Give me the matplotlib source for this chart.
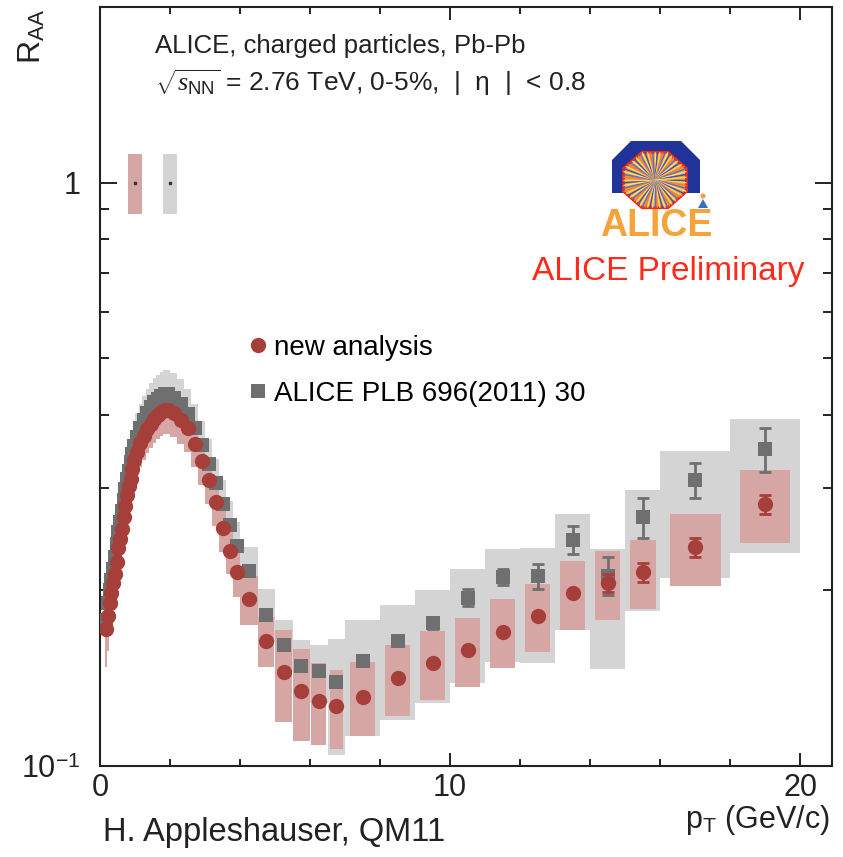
import numpy as np
import matplotlib
matplotlib.use("Agg")
import matplotlib.pyplot as plt
from matplotlib.patches import Polygon, Circle
from matplotlib.lines import Line2D
from matplotlib.ticker import LogLocator, NullFormatter, FixedLocator

plt.rcParams['font.family'] = ['Liberation Sans', 'DejaVu Sans']
plt.rcParams['mathtext.fontset'] = 'custom'
plt.rcParams['mathtext.rm'] = 'Liberation Sans'
plt.rcParams['mathtext.it'] = 'Liberation Serif:italic'
plt.rcParams['mathtext.sf'] = 'Liberation Sans'

# pT bin centres and full bin widths (GeV/c)
pt = [0.175, 0.225, 0.275, 0.325, 0.375, 0.425, 0.475, 0.525, 0.575, 0.625,
      0.675, 0.725, 0.775, 0.825, 0.875, 0.925, 0.975,
      1.05, 1.15, 1.25, 1.35, 1.45, 1.55, 1.65, 1.75, 1.85, 1.95,
      2.1, 2.3, 2.5, 2.7, 2.9, 3.1, 3.3, 3.5, 3.7, 3.9,
      4.25, 4.75, 5.25, 5.75, 6.25, 6.75,
      7.5, 8.5, 9.5, 10.5, 11.5, 12.5, 13.5, 14.5, 15.5, 17.0, 19.0]
bin_w = [0.05, 0.05, 0.05, 0.05, 0.05, 0.05, 0.05, 0.05, 0.05, 0.05,
         0.05, 0.05, 0.05, 0.05, 0.05, 0.05, 0.05,
         0.1, 0.1, 0.1, 0.1, 0.1, 0.1, 0.1, 0.1, 0.1, 0.1,
         0.2, 0.2, 0.2, 0.2, 0.2, 0.2, 0.2, 0.2, 0.2, 0.2,
         0.5, 0.5, 0.5, 0.5, 0.5, 0.5,
         1.0, 1.0, 1.0, 1.0, 1.0, 1.0, 1.0, 1.0, 1.0, 2.0, 2.0]

# new analysis
raa_new = [0.172, 0.181, 0.190, 0.198, 0.206, 0.213, 0.224, 0.236, 0.245, 0.255,
           0.267, 0.279, 0.291, 0.302, 0.311, 0.323, 0.334,
           0.346, 0.358, 0.368, 0.378, 0.386, 0.393, 0.399, 0.404, 0.407, 0.407,
           0.403, 0.392, 0.379, 0.357, 0.333, 0.309, 0.283, 0.256, 0.234, 0.215,
           0.193, 0.164, 0.145, 0.1346, 0.1294, 0.1267,
           0.1315, 0.1414, 0.150, 0.158, 0.170, 0.181, 0.198, 0.206, 0.215, 0.237, 0.281]
stat_new = [0, 0, 0, 0, 0, 0, 0, 0, 0, 0, 0, 0, 0, 0, 0, 0, 0,
            0, 0, 0, 0, 0, 0, 0, 0, 0, 0,
            0, 0, 0, 0, 0, 0, 0, 0, 0, 0,
            0, 0, 0, 0, 0, 0,
            0, 0, 0, 0, 0, 0, 0, 0.007, 0.008, 0.009, 0.011]
sys_new = [0.14, 0.13, 0.12, 0.11, 0.10, 0.10, 0.10, 0.095, 0.095, 0.09,
           0.09, 0.09, 0.09, 0.09, 0.09, 0.09, 0.09,
           0.09, 0.09, 0.09, 0.09, 0.09, 0.09, 0.09, 0.09, 0.09, 0.09,
           0.09, 0.09, 0.09, 0.09, 0.09, 0.09, 0.09, 0.09, 0.09, 0.095,
           0.095, 0.10, 0.18, 0.18, 0.16, 0.155,
           0.145, 0.14, 0.135, 0.135, 0.135, 0.135, 0.135, 0.135, 0.135, 0.14, 0.143]
box_w_new = [0.05, 0.05, 0.05, 0.05, 0.05, 0.05, 0.05, 0.05, 0.05, 0.05,
             0.05, 0.05, 0.05, 0.05, 0.05, 0.05, 0.05,
             0.1, 0.1, 0.1, 0.1, 0.1, 0.1, 0.1, 0.1, 0.1, 0.1,
             0.2, 0.2, 0.2, 0.2, 0.2, 0.2, 0.2, 0.2, 0.2, 0.2,
             0.5, 0.45, 0.48, 0.5, 0.42, 0.38,
             0.7, 0.7, 0.7, 0.72, 0.7, 0.7, 0.7, 0.7, 0.75, 1.45, 1.43]

# ALICE PLB 696 (2011) 30
raa_old = [0.178, 0.190, 0.200, 0.208, 0.218, 0.228, 0.240, 0.252, 0.262, 0.274,
           0.286, 0.298, 0.310, 0.321, 0.332, 0.343, 0.353,
           0.366, 0.380, 0.392, 0.403, 0.412, 0.420, 0.426, 0.431, 0.434, 0.434,
           0.428, 0.418, 0.402, 0.380, 0.355, 0.330, 0.305, 0.281, 0.259, 0.238,
           0.2155, 0.1815, 0.1612, 0.1486, 0.1455, 0.1395,
           0.1516, 0.164, 0.176, 0.1944, 0.211, 0.2117, 0.244, 0.212, 0.2667, 0.3094, 0.3493]
stat_old = [0, 0, 0, 0, 0, 0, 0, 0, 0, 0, 0, 0, 0, 0, 0, 0, 0,
            0, 0, 0, 0, 0, 0, 0, 0, 0, 0,
            0, 0, 0, 0, 0, 0, 0, 0, 0, 0,
            0, 0, 0, 0, 0, 0,
            0, 0, 0.004, 0.0065, 0.007, 0.0103, 0.0135, 0.0158, 0.021, 0.021, 0.030]
sys_old_lo = [0.12, 0.11, 0.11, 0.10, 0.10, 0.10, 0.10, 0.10, 0.10, 0.10,
              0.10, 0.10, 0.10, 0.10, 0.10, 0.10, 0.10,
              0.10, 0.10, 0.10, 0.10, 0.10, 0.10, 0.10, 0.10, 0.10, 0.10,
              0.10, 0.10, 0.10, 0.10, 0.10, 0.10, 0.10, 0.10, 0.10, 0.10,
              0.10, 0.10, 0.10, 0.10, 0.12, 0.25,
              0.256, 0.27, 0.27, 0.285, 0.286, 0.29, 0.30, 0.307, 0.31, 0.32, 0.337]
sys_old_hi = [0.12, 0.11, 0.11, 0.10, 0.10, 0.10, 0.10, 0.10, 0.10, 0.10,
              0.10, 0.10, 0.10, 0.10, 0.10, 0.10, 0.10,
              0.10, 0.10, 0.10, 0.10, 0.10, 0.10, 0.10, 0.10, 0.10, 0.10,
              0.10, 0.10, 0.10, 0.10, 0.10, 0.10, 0.10, 0.10, 0.10, 0.10,
              0.10, 0.107, 0.104, 0.106, 0.106, 0.185,
              0.174, 0.15, 0.136, 0.12, 0.114, 0.115, 0.11, 0.11, 0.115, 0.12, 0.125]

# normalisation uncertainty boxes at R_AA = 1
norm_pt = [0.99, 1.99]
norm_lo = [0.885, 0.885]
norm_hi = [1.118, 1.118]

RED = '#a63e39'
PINK = '#d6a6a5'
DGRAY = '#6f6f6f'
LGRAY = '#d4d4d4'

pt = np.array(pt)
raa_new = np.array(raa_new)
raa_old = np.array(raa_old)
stat_new = np.array(stat_new)
stat_old = np.array(stat_old)

fig = plt.figure(figsize=(8.43, 8.57), dpi=100)
ax = fig.add_axes([100 / 843, 91 / 857, 731.7 / 843, 759 / 857])
ax.set_yscale('log')

old_lo = raa_old * (1 - np.array(sys_old_lo))
old_hi = raa_old * (1 + np.array(sys_old_hi))
ax.bar(pt, old_hi - old_lo, width=bin_w, bottom=old_lo, color=LGRAY, lw=0, zorder=1)
new_lo = raa_new * (1 - np.array(sys_new))
new_hi = raa_new * (1 + np.array(sys_new))
ax.bar(pt, new_hi - new_lo, width=box_w_new, bottom=new_lo, color=PINK, lw=0, zorder=2)

ax.bar(norm_pt, np.array(norm_hi) - np.array(norm_lo), width=0.4, bottom=norm_lo,
       color=[PINK, LGRAY], lw=0, zorder=2)
ax.plot(norm_pt, [1, 1], ls='none', marker='s', ms=1.5, color='#333333', zorder=3)

m = stat_old > 0
ax.errorbar(pt[m], raa_old[m], yerr=stat_old[m], fmt='none', ecolor=DGRAY,
            elinewidth=2, capsize=4.5, capthick=2, zorder=3)
ax.plot(pt, raa_old, ls='none', marker='s', ms=10.5, mew=0, color=DGRAY, zorder=3)
m = stat_new > 0
ax.errorbar(pt[m], raa_new[m], yerr=stat_new[m], fmt='none', ecolor=RED,
            elinewidth=2, capsize=4.5, capthick=2, zorder=4)
ax.plot(pt, raa_new, ls='none', marker='o', ms=11, mew=0, color=RED, zorder=4)

ax.set_xlim(0, 20.9)
ax.set_ylim(0.1, 2.0)
ax.xaxis.set_major_locator(FixedLocator([0, 10, 20]))
ax.xaxis.set_minor_locator(FixedLocator([2, 4, 6, 8, 12, 14, 16, 18]))
ax.yaxis.set_major_locator(FixedLocator([0.1, 1]))
ax.yaxis.set_minor_locator(LogLocator(base=10, subs=np.arange(2, 10)))
ax.yaxis.set_minor_formatter(NullFormatter())
ax.set_yticklabels([r'$10^{-1}$', '1'])
ax.set_xticklabels(['0', '10', '20'])
ax.tick_params(which='both', direction='in', top=True, right=True, width=1.4,
               labelsize=22, colors='#222222')
ax.tick_params(axis='y', which='major', length=12, pad=14)
ax.tick_params(axis='y', which='minor', length=6.5)
ax.tick_params(axis='x', which='major', length=9.5, pad=5)
ax.tick_params(axis='x', which='minor', length=5)
for s in ax.spines.values():
    s.set_linewidth(1.5)
    s.set_color('#222222')

# texts
ax.text(0.075, 0.949, 'ALICE, charged particles, Pb-Pb', transform=ax.transAxes,
        fontsize=18.5, va='center', ha='left', color='#222222')
ax.text(0.075, 0.901, r'$\sqrt{s_{\rm NN}}$ = 2.76 TeV, 0-5%,  |  η  |  < 0.8',
        transform=ax.transAxes, fontsize=19, va='center', ha='left', color='#222222')
ax.text(0.776, 0.651, 'ALICE Preliminary', transform=ax.transAxes, fontsize=24,
        va='center', ha='center', color='#ff2a1a')

handles = [Line2D([], [], ls='none', marker='o', ms=11, mew=0, color=RED),
           Line2D([], [], ls='none', marker='s', ms=10.5, mew=0, color=DGRAY)]
ax.legend(handles, ['new analysis', 'ALICE PLB 696(2011) 30'], loc='upper left',
          bbox_to_anchor=(0.202, 0.5685), frameon=False, fontsize=20,
          handlelength=0.7, handletextpad=0.25, labelspacing=0.72, borderpad=0,
          borderaxespad=0)

fig.text(32 / 843, 1 - 36 / 857, r'R$_{\rm AA}$', rotation=90, fontsize=23,
         ha='center', va='center', color='#222222')
fig.text(830 / 843, 1 - 820 / 857, r'p$_{\rm T}$ (GeV/c)', fontsize=22,
         ha='right', va='center', color='#222222')
fig.text(103 / 843, 1 - 832 / 857, 'H. Appleshauser, QM11', fontsize=23.5,
         ha='left', va='center', color='#222222')

# ALICE logo
lax = fig.add_axes([590 / 843, 1 - 242 / 857, 130 / 843, 107 / 857])
lax.set_xlim(590, 720)
lax.set_ylim(242, 135)
lax.axis('off')
lax.add_patch(Polygon([(612, 193), (612, 160), (631, 141), (681, 141), (700, 160), (700, 193)],
                      closed=True, fc='#22349a', ec='none'))
ang = np.deg2rad(22.5 + 45 * np.arange(8))
octo = Polygon(np.column_stack([655 + 34 * np.cos(ang), 180 + 30 * np.sin(ang)]),
               closed=True, fc='#e8a040', ec='none')
lax.add_patch(octo)
cols = ['#3a4fc0', '#ffd84a', '#ff7a30', '#5a6ad8', '#ffe070']
for i, a in enumerate(np.linspace(0, 2 * np.pi, 72, endpoint=False)):
    ln, = lax.plot([655, 655 + 45 * np.cos(a)], [180, 180 + 45 * np.sin(a)],
                   color=cols[i % len(cols)], lw=1.0)
    ln.set_clip_path(octo)
lax.add_patch(Circle((655, 180), 6, fc='#ffe060', ec='none'))
lax.add_patch(Polygon(np.column_stack([655 + 34 * np.cos(ang), 180 + 30 * np.sin(ang)]),
                      closed=True, fc='none', ec='#ee2a1a', lw=2))
lax.add_patch(Circle((703, 196), 2.5, fc='#f0a040', ec='none'))
lax.add_patch(Polygon([(698, 208), (708, 208), (703, 199)], closed=True, fc='#3a70c0', ec='none'))
lax.text(656, 226, 'ALICE', color='#f6a43a', fontsize=27, fontweight='bold',
         ha='center', va='center')

fig.savefig('out.png', dpi=100, facecolor='white')
